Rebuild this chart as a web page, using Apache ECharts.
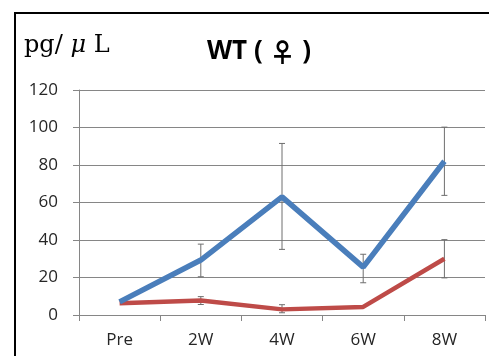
<!DOCTYPE html>
<html><head><meta charset="utf-8">
<script src="https://cdn.jsdelivr.net/npm/echarts@6/dist/echarts.min.js"></script>
<style>html,body{margin:0;padding:0;background:#fff}#c{width:489px;height:356px}</style>
</head><body><div id="c"></div>
<script>
const categories = ['Pre', '2W', '4W', '6W', '8W'];
const blueMean = [7, 29.3, 63, 25.5, 82];
const blueLow = [7, 20.4, 35, 17.2, 63.8];
const blueHigh = [7, 37.8, 91.5, 32.4, 100.2];
const redMean = [6.3, 7.7, 3, 4.3, 30];
const redLow = [6.3, 5.6, 1.2, 4.3, 19.8];
const redHigh = [6.3, 9.8, 5.5, 4.3, 40.2];
const yTicks = [0, 20, 40, 60, 80, 100, 120];

function errSeries(low, high) {
  return {
    type: 'custom', z: 1,
    data: categories.map((c, i) => [i, low[i], high[i]]),
    renderItem: function (params, api) {
      const x = api.value(0);
      if (api.value(1) === api.value(2)) return null;
      const lo = api.coord([x, api.value(1)]);
      const hi = api.coord([x, api.value(2)]);
      const w = 3;
      const st = { stroke: '#6e6e6e', lineWidth: 1 };
      return { type: 'group', children: [
        { type: 'line', shape: { x1: lo[0], y1: lo[1], x2: hi[0], y2: hi[1] }, style: st },
        { type: 'line', shape: { x1: lo[0] - w, y1: lo[1], x2: lo[0] + w, y2: lo[1] }, style: st },
        { type: 'line', shape: { x1: hi[0] - w, y1: hi[1], x2: hi[0] + w, y2: hi[1] }, style: st }
      ]};
    }
  };
}

const chart = echarts.init(document.getElementById('c'), null, { renderer: 'canvas' });
chart.setOption({
  animation: false,
  grid: { left: 79, right: 4, top: 90, bottom: 41, containLabel: false },
  graphic: [
    { type: 'rect', shape: { x: 15, y: 13, width: 520, height: 400 }, style: { fill: 'none', stroke: '#000', lineWidth: 2 }, z: 100 },
    { type: 'text', left: 24, top: 34, style: {
      text: '{a|pg/ }{m|\u03bc}{a| L}',
      rich: {
        a: { font: '24px "DejaVu Serif", "Liberation Serif", serif', fill: '#000' },
        m: { font: 'italic 24px "DejaVu Serif", "Liberation Serif", serif', fill: '#000' }
      } } }
  ],
  title: {
    text: 'WT ( {s|\u2640} )', left: 254, top: 34, textAlign: 'center',
    textStyle: { fontFamily: '"Open Sans", sans-serif', fontWeight: 'bold', fontSize: 26, color: '#000',
      rich: { s: { fontFamily: '"Noto Sans CJK JP", sans-serif', fontWeight: 'bold', fontSize: 26, color: '#000' } } }
  },
  xAxis: {
    type: 'category', data: categories, boundaryGap: true,
    axisLine: { lineStyle: { color: '#868686', width: 1 } },
    axisTick: { show: true, length: 6, lineStyle: { color: '#868686' } },
    axisLabel: { color: '#262626', fontSize: 17, fontFamily: '"Open Sans", sans-serif', margin: 17 }
  },
  yAxis: {
    type: 'value', min: 0, max: 120, interval: 20,
    axisLine: { show: true, lineStyle: { color: '#868686', width: 1 } },
    axisTick: { show: true, length: 6, lineStyle: { color: '#868686' } },
    axisLabel: { color: '#262626', fontSize: 17, fontFamily: '"Open Sans", sans-serif', margin: 21,
      formatter: v => yTicks.includes(v) ? String(v) : '' },
    splitLine: { lineStyle: { color: '#868686', width: 1 } }
  },
  series: [
    errSeries(blueLow, blueHigh),
    errSeries(redLow, redHigh),
    { type: 'line', data: redMean, symbol: 'none', z: 2, lineStyle: { color: '#be4b48', width: 4.5 } },
    { type: 'line', data: blueMean, symbol: 'none', z: 3, lineStyle: { color: '#4a7ebb', width: 5.5 } }
  ]
});
</script></body></html>
